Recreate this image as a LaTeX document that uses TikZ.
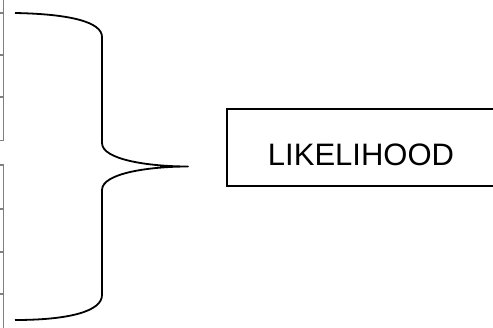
\documentclass[tikz,border=0pt]{standalone}
\usepackage{fontspec}
\setmainfont{Liberation Sans}
\begin{document}
\begin{tikzpicture}[x=1pt,y=-1pt,
  tbl/.style={draw=black!50, line width=1.5pt},
  bracestyle/.style={draw=black, line width=1.8pt, line join=round},
  boxstyle/.style={draw=black, line width=1.4pt}]
\useasboundingbox (0,0) rectangle (493,327);
\clip (0,0) rectangle (493,327);
% cropped tables on the left edge
\draw[tbl] (3.5,-2) -- (3.5,140.5) -- (-2,140.5);
\foreach \yy in {13,55,97} \draw[tbl] (-2,\yy) -- (3.5,\yy);
\draw[tbl] (-2,165) -- (3.5,165) -- (3.5,330);
\foreach \yy in {209,252,294} \draw[tbl] (-2,\yy) -- (3.5,\yy);
% brace
\draw[bracestyle] (15,13) .. controls (70,14) and (102,22) .. (102,37)
  -- (102,143) .. controls (102,160) and (150,166.5) .. (188,166.5)
  .. controls (150,166.5) and (102,173) .. (102,190)
  -- (102,295) .. controls (102,311) and (70,320) .. (15,320);
% box
\draw[boxstyle] (227,109) rectangle (520,186);
\node[inner sep=0pt, anchor=base, font=\fontsize{31}{31}\selectfont] (lik) at (361,165) {LIKELIHOOD};
\end{tikzpicture}
\end{document}
